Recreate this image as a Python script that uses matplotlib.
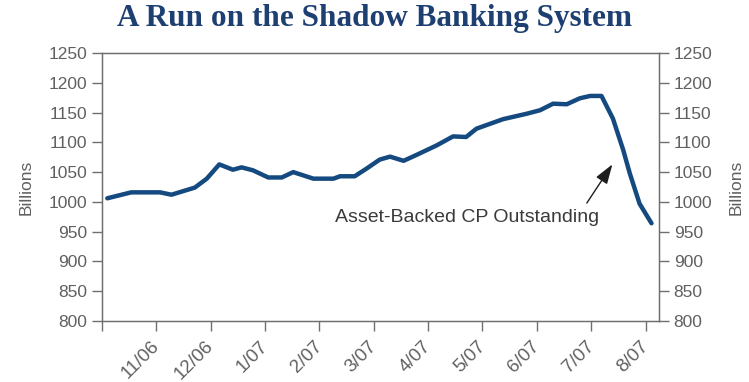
import numpy as np
import matplotlib.pyplot as plt
from matplotlib.transforms import ScaledTranslation

plt.rcParams['font.family'] = ['Liberation Sans', 'DejaVu Sans']

# months since 10/06 (0 = Oct 2006 tick)
months = [0.10, 0.54, 1.07, 1.28, 1.71, 1.93, 2.16, 2.41, 2.57, 2.78, 3.06, 3.31,
          3.52, 3.89, 4.26, 4.38, 4.65, 4.87, 5.11, 5.30, 5.55, 5.79, 6.16,
          6.46, 6.70, 6.89, 7.38, 7.81, 8.06, 8.30, 8.55, 8.79, 8.98, 9.19,
          9.40, 9.59, 9.71, 9.89, 10.11]
abcp = [1006, 1016, 1016, 1012, 1024, 1039, 1063, 1054, 1058, 1053, 1041, 1041,
        1050, 1039, 1039, 1043, 1043, 1056, 1071, 1076, 1069, 1079, 1095,
        1110, 1109, 1123, 1139, 1148, 1154, 1165, 1164, 1174, 1178, 1178,
        1140, 1087, 1048, 997, 964]
tick_labels = ["11/06", "12/06", "1/07", "2/07", "3/07", "4/07", "5/07", "6/07", "7/07", "8/07"]

gray = "#6f6f6f"
txt = "#606060"
fig = plt.figure(figsize=(7.49, 3.82), dpi=100)
ax = fig.add_axes([0.136, 0.16, 0.744, 0.701])
ax.plot(months, abcp, color="#154a80", lw=3.2, solid_capstyle="round", solid_joinstyle="round")

ax.set_xlim(0, 10.25)
ax.set_ylim(800, 1250)
ax.set_yticks(np.arange(800, 1251, 50))
ax.set_xticks(range(0, 11))
ax.set_xticklabels([""] + tick_labels, rotation=45, ha="right", va="top", rotation_mode="anchor")
for s in ax.spines.values():
    s.set_color(gray)
    s.set_linewidth(1.0)
ax.tick_params(axis="both", color=gray, labelcolor=txt, labelsize=12.5, length=7, width=1.0)
ax.tick_params(axis="x", pad=5, labelsize=13.5)
shift = ScaledTranslation(-4 / 72, 0, fig.dpi_scale_trans)
for lab in ax.get_xticklabels():
    lab.set_transform(lab.get_transform() + shift)
ax.set_ylabel("Billions", color=txt, fontsize=12.5, labelpad=11)

ax2 = ax.twinx()
ax2.set_ylim(800, 1250)
ax2.set_yticks(np.arange(800, 1251, 50))
for s in ax2.spines.values():
    s.set_color(gray)
ax2.tick_params(axis="y", color=gray, labelcolor=txt, labelsize=12.5, length=7, width=1.0)
ax2.set_ylabel("Billions", color=txt, fontsize=12.5, labelpad=12)

ax.text(6.71, 973, "Asset-Backed CP Outstanding", ha="center", va="center",
        fontsize=14, color="#3a3a3a")
ax.annotate("", xy=(9.39, 1063), xytext=(8.92, 998),
            arrowprops=dict(arrowstyle="-|>,head_length=1.2,head_width=0.4", color="#1e1e1e",
                            lw=1.0, shrinkA=0, shrinkB=0))

fig.text(0.5, 0.952, "A Run on the Shadow Banking System", ha="center", va="center",
         fontsize=22.5, color="#1d3f72", family="Liberation Serif", weight="bold")

fig.savefig("out.png", dpi=100)
